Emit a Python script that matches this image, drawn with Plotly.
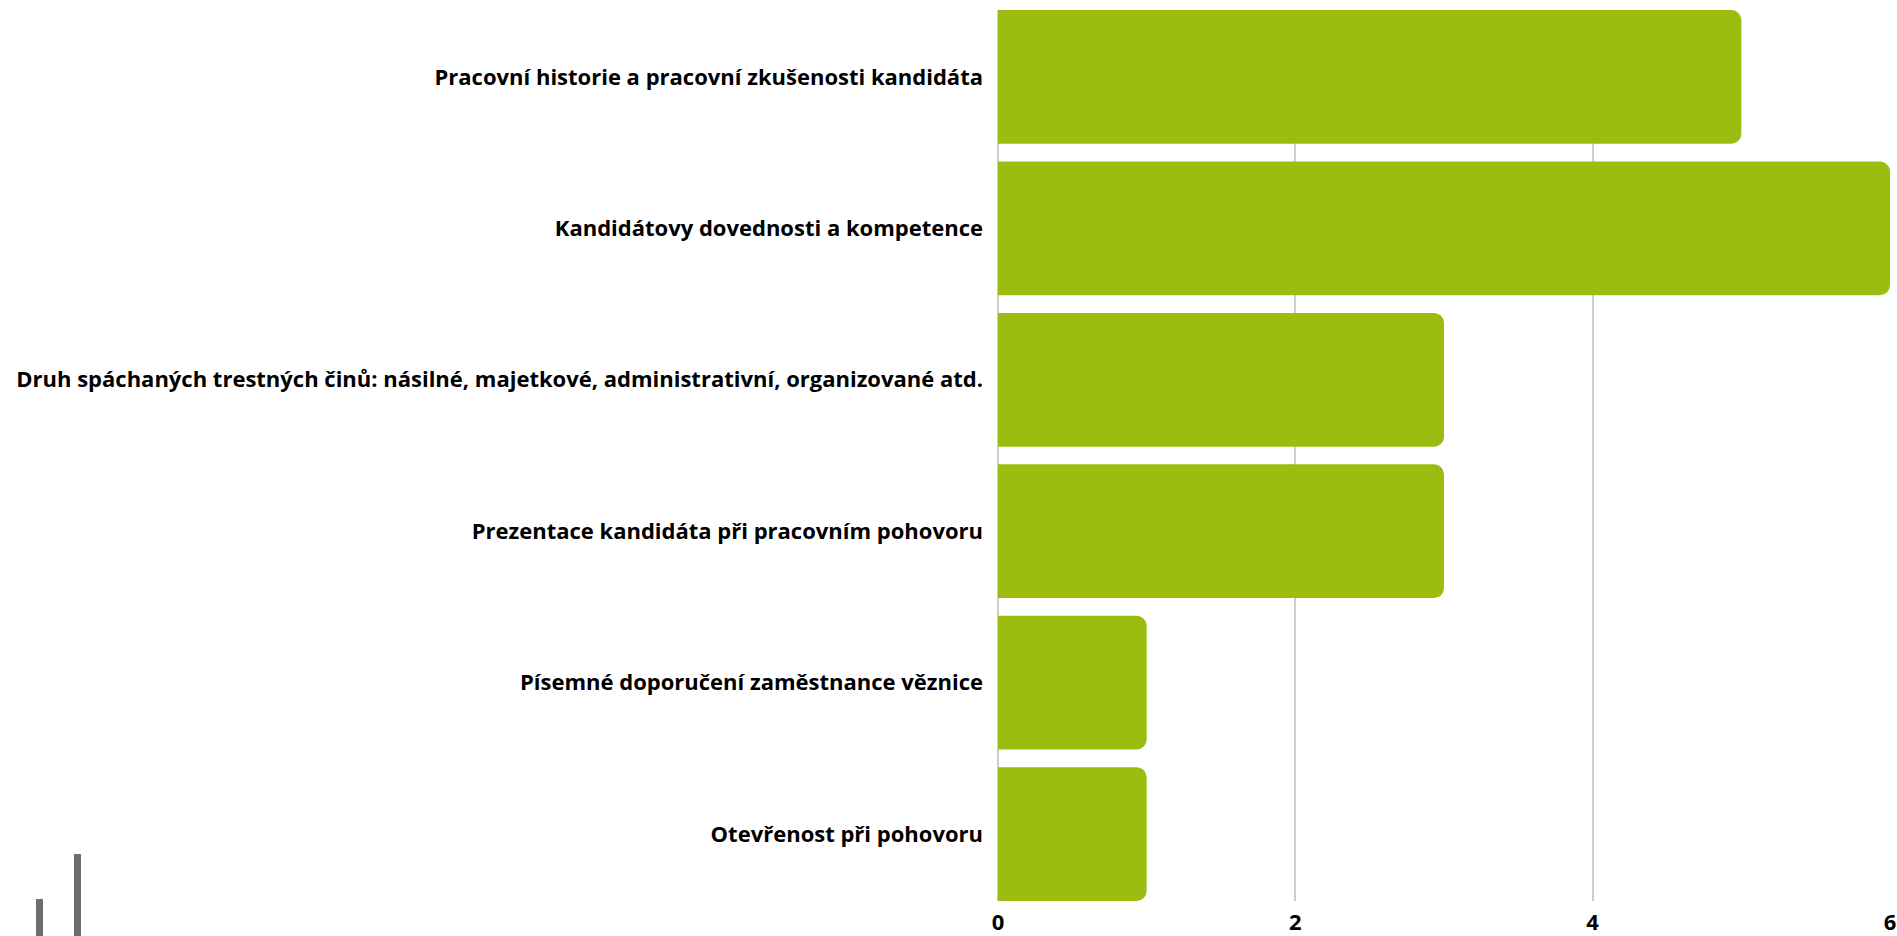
import plotly.graph_objects as go

categories = [
    "Pracovní historie a pracovní zkušenosti kandidáta",
    "Kandidátovy dovednosti a kompetence",
    "Druh spáchaných trestných činů: násilné, majetkové, administrativní, organizované atd.",
    "Prezentace kandidáta při pracovním pohovoru",
    "Písemné doporučení zaměstnance věznice",
    "Otevřenost při pohovoru",
]
values = [5, 6, 3, 3, 1, 1]
x_ticks = [0, 2, 4, 6]

BAR_COLOR = "#9bbd10"
GRID = "#cccccc"
FONT = "Open Sans"
bargap = 0.117

fig = go.Figure(
    go.Bar(
        x=values,
        y=categories,
        orientation="h",
        marker=dict(color=BAR_COLOR, line=dict(width=0)),
        hoverinfo="skip",
    )
)

n = len(categories)
fig.update_layout(
    width=1897,
    height=936,
    margin=dict(l=998, r=7, t=10, b=35, autoexpand=False),
    paper_bgcolor="white",
    plot_bgcolor="white",
    bargap=bargap,
    barcornerradius=10,
    showlegend=False,
    font=dict(family=FONT, color="#000000"),
    xaxis=dict(
        range=[0, 6],
        tickvals=x_ticks,
        ticktext=[str(v) for v in x_ticks],
        showgrid=True,
        gridcolor=GRID,
        gridwidth=1.5,
        zeroline=True,
        zerolinecolor=GRID,
        zerolinewidth=1.5,
        showline=False,
        ticks="",
        automargin=False,
        ticklabelstandoff=6,
        tickfont=dict(family=FONT, size=22, color="#000000", weight="bold"),
        fixedrange=True,
    ),
    yaxis=dict(
        categoryorder="array",
        categoryarray=categories[::-1],
        range=[-0.5 + bargap / 2, n - 0.5 - bargap / 2],
        showgrid=False,
        zeroline=False,
        showline=False,
        ticks="",
        automargin=False,
        ticklabelstandoff=14,
        tickfont=dict(family=FONT, size=22, color="#000000", weight="bold"),
        fixedrange=True,
    ),
)

# small decorative grey bars in the bottom-left corner
for x0, x1, ytop in [(-962, -955, 2), (-924, -917, 47)]:
    fig.add_shape(
        type="rect",
        xref="paper", yref="paper",
        xsizemode="pixel", ysizemode="pixel",
        xanchor=0, yanchor=0,
        x0=x0, x1=x1, y0=-40, y1=ytop,
        fillcolor="#6d6e70", line=dict(width=0), layer="above",
    )

fig.write_html(
    "out.html",
    config={"displayModeBar": False},
    post_script="document.body.style.margin='0';document.body.style.overflow='hidden';",
)
